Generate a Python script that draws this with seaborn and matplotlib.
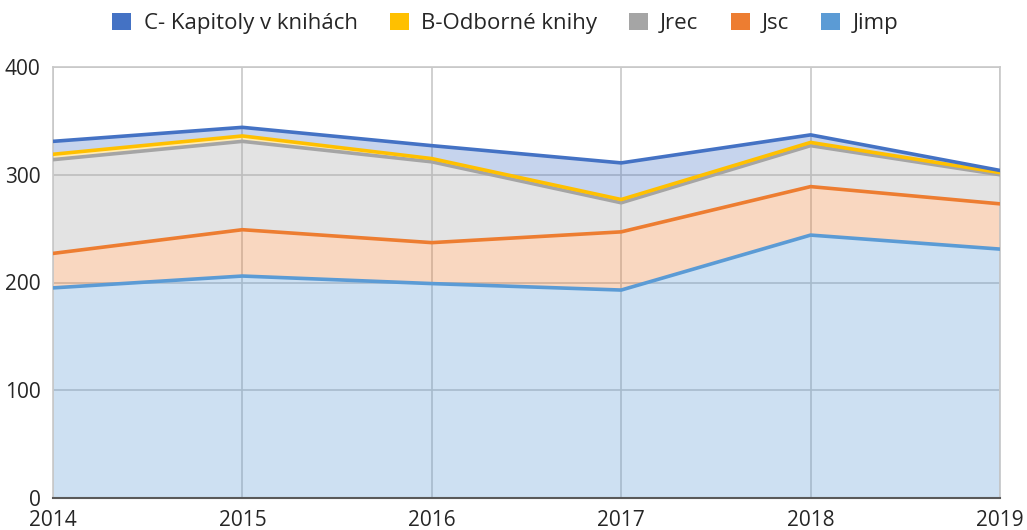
import numpy as np
import pandas as pd
import matplotlib.pyplot as plt
import seaborn as sns
from matplotlib.patches import Patch

years = [2014, 2015, 2016, 2017, 2018, 2019]

# values per category (stacked bottom -> top)
jimp = [195, 206, 199, 193, 244, 231]
jsc = [32, 43, 38, 54, 45, 42]
jrec = [87, 82, 75, 27, 38, 27]
odborne_knihy = [5, 5, 3, 3, 3, 2]
kapitoly = [12, 8, 12, 34, 7, 2]

series_names = ["Jimp", "Jsc", "Jrec", "B-Odborné knihy", "C- Kapitoly v knihách"]
series_values = [jimp, jsc, jrec, odborne_knihy, kapitoly]
series_colors = ["#5B9BD5", "#ED7D31", "#A5A5A5", "#FFC000", "#4472C4"]

sns.set_theme(style="white")
plt.rcParams["font.family"] = ["Open Sans", "DejaVu Sans"]

fig = plt.figure(figsize=(10.27, 5.30), dpi=100)
ax = fig.add_axes([53 / 1027, 32 / 530, 947 / 1027, 431 / 530])

df = pd.DataFrame(dict(zip(series_names, series_values)), index=years)
cum = df.cumsum(axis=1)

prev = np.zeros(len(years))
for name, color in zip(series_names, series_colors):
    top = cum[name].values
    ax.fill_between(years, prev, top, color=color, alpha=0.3, linewidth=0, zorder=2)
    prev = top

for name, color in zip(series_names, series_colors):
    sns.lineplot(x=years, y=cum[name].values, color=color, linewidth=2.6,
                 ax=ax, zorder=4)

ax.set_xlim(2014, 2019)
ax.set_ylim(0, 400)
ax.set_yticks([0, 100, 200, 300, 400])
ax.set_xticks(years)
ax.grid(True, color="#C8C8C8", linewidth=1.2, zorder=1)
ax.set_axisbelow(True)
for side in ["left", "right", "top"]:
    ax.spines[side].set_color("#C8C8C8")
    ax.spines[side].set_linewidth(1.2)
ax.spines["bottom"].set_color("#595959")
ax.spines["bottom"].set_linewidth(1.5)
ax.tick_params(axis="both", length=0, labelsize=15, colors="#262626")
ax.tick_params(axis="x", pad=9)
ax.tick_params(axis="y", pad=9)

handles = [Patch(facecolor=c, edgecolor="none") for c in series_colors[::-1]]
fig.legend(handles, series_names[::-1], loc="center", bbox_to_anchor=(0.492, 0.956),
           ncol=5, frameon=False, fontsize=16, handlelength=0.85, handleheight=0.85,
           columnspacing=1.45, handletextpad=0.55, labelcolor="#262626")

fig.savefig("out.png", dpi=100)
